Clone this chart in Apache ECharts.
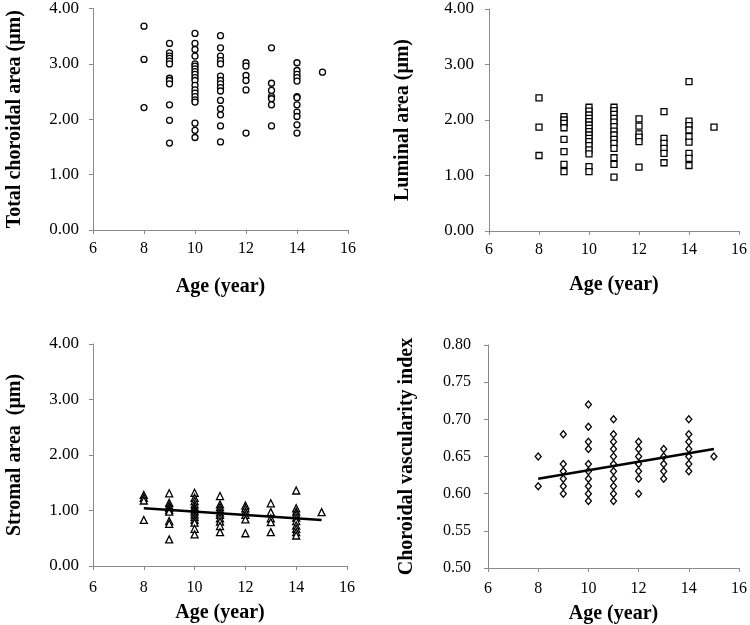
<!DOCTYPE html>
<html><head><meta charset="utf-8">
<script src="https://cdn.jsdelivr.net/npm/echarts@6/dist/echarts.min.js"></script>
<style>html,body{margin:0;padding:0;background:#fff}#c{width:750px;height:625px}</style>
</head><body><div id="c"></div>
<script>
const xTicks = [6, 8, 10, 12, 14, 16];
const totalArea = [
[8,3.68],[8,3.08],[8,2.21],
[9,3.37],[9,3.20],[9,3.14],[9,3.10],[9,3.05],[9,3.00],[9,2.74],[9,2.70],[9,2.64],[9,2.26],[9,1.98],[9,1.57],
[10,3.55],[10,3.37],[10,3.26],[10,3.14],[10,3.00],[10,2.96],[10,2.91],[10,2.86],[10,2.81],[10,2.75],[10,2.70],[10,2.61],[10,2.53],[10,2.47],[10,2.41],[10,2.35],[10,2.31],[10,1.93],[10,1.80],[10,1.67],
[11,3.51],[11,3.29],[11,3.14],[11,3.06],[11,3.00],[11,2.78],[11,2.70],[11,2.64],[11,2.57],[11,2.51],[11,2.34],[11,2.19],[11,2.08],[11,1.88],[11,1.59],
[12,3.02],[12,2.96],[12,2.79],[12,2.70],[12,2.53],[12,1.75],
[13,3.29],[13,2.65],[13,2.52],[13,2.41],[13,2.37],[13,2.26],[13,1.88],
[14,4.03],[14,3.02],[14,2.88],[14,2.81],[14,2.75],[14,2.69],[14,2.41],[14,2.39],[14,2.26],[14,2.13],[14,2.05],[14,1.90],[14,1.75],
[15,2.85]
];
const luminalArea = [
[8,2.40],[8,1.87],[8,1.36],
[9,2.06],[9,2.00],[9,1.94],[9,1.86],[9,1.65],[9,1.43],[9,1.20],[9,1.07],
[10,2.23],[10,2.16],[10,2.09],[10,2.03],[10,1.97],[10,1.91],[10,1.85],[10,1.79],[10,1.73],[10,1.67],[10,1.61],[10,1.54],[10,1.46],[10,1.39],[10,1.16],[10,1.07],
[11,2.23],[11,2.17],[11,2.10],[11,2.03],[11,1.96],[11,1.88],[11,1.80],[11,1.73],[11,1.65],[11,1.58],[11,1.49],[11,1.32],[11,1.20],[11,0.97],
[12,2.02],[12,1.89],[12,1.75],[12,1.69],[12,1.61],[12,1.15],
[13,2.15],[13,1.67],[13,1.58],[13,1.49],[13,1.40],[13,1.23],
[14,2.69],[14,1.98],[14,1.90],[14,1.82],[14,1.70],[14,1.60],[14,1.40],[14,1.31],[14,1.18],
[15,1.87]
];
const stromalArea = [
[8,1.28],[8,1.23],[8,1.18],[8,0.83],
[9,1.31],[9,1.14],[9,1.09],[9,1.05],[9,1.01],[9,0.98],[9,0.81],[9,0.76],[9,0.48],
[10,1.32],[10,1.23],[10,1.17],[10,1.11],[10,1.06],[10,1.02],[10,0.98],[10,0.93],[10,0.88],[10,0.83],[10,0.78],[10,0.67],[10,0.57],
[11,1.26],[11,1.11],[11,1.06],[11,1.01],[11,0.96],[11,0.92],[11,0.86],[11,0.80],[11,0.72],[11,0.61],
[12,1.09],[12,1.04],[12,0.98],[12,0.92],[12,0.84],[12,0.59],
[13,1.13],[13,0.97],[13,0.86],[13,0.79],[13,0.61],
[14,1.36],[14,1.04],[14,0.98],[14,0.93],[14,0.87],[14,0.81],[14,0.73],[14,0.67],[14,0.61],[14,0.55],
[15,0.97]
];
const stromalTrend = [[8,1.04],[15,0.83]];
const cvi = [
[8,0.65],[8,0.61],
[9,0.68],[9,0.64],[9,0.63],[9,0.62],[9,0.61],[9,0.60],
[10,0.72],[10,0.69],[10,0.67],[10,0.66],[10,0.64],[10,0.63],[10,0.62],[10,0.61],[10,0.60],[10,0.59],
[11,0.70],[11,0.68],[11,0.67],[11,0.66],[11,0.65],[11,0.64],[11,0.63],[11,0.62],[11,0.61],[11,0.60],[11,0.59],
[12,0.67],[12,0.66],[12,0.65],[12,0.64],[12,0.63],[12,0.62],[12,0.60],
[13,0.66],[13,0.65],[13,0.64],[13,0.63],[13,0.62],
[14,0.70],[14,0.68],[14,0.67],[14,0.66],[14,0.65],[14,0.64],[14,0.63],
[15,0.65]
];
const cviTrend = [[8,0.62],[15,0.66]];

const FONT = '"Liberation Serif","Times New Roman",serif';
const axisCol = '#8a8a8a';
const grids = [
  {left:93, top:8, width:255, height:222},
  {left:489, top:9, width:252, height:222},
  {left:93, top:344, width:254, height:222},
  {left:488, top:345, width:253, height:223}
];
const yNames = ['Total choroidal area (μm)','Luminal area (μm)','Stromal area  (μm)','Choroidal vascularity index'];
const yGaps = [68, 76, 68, 71];
const xGaps = [47, 44, 37, 36];
const xLabelMargin = [11, 11, 14, 13];
const yLabelSize = [17, 17, 17, 16];
const yLabelMargin = [14, 15, 14, 17];
const yCfg = [
  {min:0,max:4,interval:1,dec:2},
  {min:0,max:4,interval:1,dec:2},
  {min:0,max:4,interval:1,dec:2},
  {min:0.5,max:0.8,interval:0.05,dec:2}
];
const xAxis = grids.map((g,i)=>({
  type:'value', gridIndex:i, min:6, max:16, interval:2,
  name:'Age (year)', nameLocation:'middle', nameGap:xGaps[i],
  nameTextStyle:{fontFamily:FONT, fontSize:20, fontWeight:'bold', color:'#000'},
  axisLine:{show:true, onZero:false, lineStyle:{color:axisCol, width:1}},
  axisTick:{show:true, length:4, lineStyle:{color:axisCol}},
  axisLabel:{fontFamily:FONT, fontSize:16, color:'#000', margin:xLabelMargin[i]},
  splitLine:{show:false}
}));
const yAxis = grids.map((g,i)=>({
  type:'value', gridIndex:i, min:yCfg[i].min, max:yCfg[i].max, interval:yCfg[i].interval,
  name:yNames[i], nameLocation:'middle', nameGap:yGaps[i], nameRotate:90,
  nameTextStyle:{fontFamily:FONT, fontSize:20, fontWeight:'bold', color:'#000'},
  axisLine:{show:true, onZero:false, lineStyle:{color:axisCol, width:1}},
  axisTick:{show:true, length:4, lineStyle:{color:axisCol}},
  axisLabel:{fontFamily:FONT, fontSize:yLabelSize[i], color:'#000', margin:yLabelMargin[i],
    formatter:v=>v.toFixed(yCfg[i].dec)},
  splitLine:{show:false}
}));
const mk = (data, idx, symbol, size) => ({
  type:'scatter', xAxisIndex:idx, yAxisIndex:idx, data, symbol, symbolSize:size,
  itemStyle:{color:'#fff', borderColor:'#000', borderWidth:1.3, opacity:1},
  z:3
});
const trend = (data, idx) => ({
  type:'line', xAxisIndex:idx, yAxisIndex:idx, data, symbol:'none',
  lineStyle:{color:'#000', width:2.5}, z:4, silent:true
});
const chart = echarts.init(document.getElementById('c'), null, {renderer:'canvas'});
chart.setOption({
  animation:false,
  backgroundColor:'#fff',
  grid:grids,
  xAxis, yAxis,
  series:[
    mk(totalArea,0,'circle',6),
    mk(luminalArea,1,'rect',6),
    mk(stromalArea,2,'triangle',7),
    trend(stromalTrend,2),
    mk(cvi,3,'diamond',[6,7]),
    trend(cviTrend,3)
  ]
});
</script></body></html>
